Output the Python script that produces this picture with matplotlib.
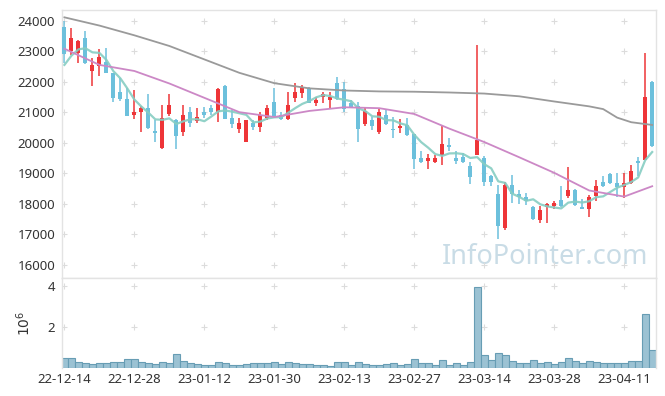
import numpy as np
import pandas as pd
import matplotlib
matplotlib.use('Agg')
import matplotlib.pyplot as plt
from matplotlib.ticker import FuncFormatter

plt.rcParams['font.family'] = ['Noto Sans', 'DejaVu Sans']

# 일봉 데이터 (시가, 고가, 저가, 종가) - 그림에서 읽은 값
opens = [23790, 23020, 22940, 23430, 22370, 22530, 22650, 22290, 21670, 21440,
         20920, 21020, 21150, 20400, 19850, 20940, 20750, 20370, 21030, 20720,
         21030, 21160, 21010, 21880, 20830, 20460, 20040, 20670, 20530, 20810,
         21350, 20920, 20780, 21470, 21650, 21790, 21300, 21500, 21410, 21960,
         21760, 21320, 21210, 20620, 20750, 20350, 20920, 20470, 20480, 20590,
         20290, 19520, 19420, 19390, 19610, 19930, 19520, 19550, 19250, 19610,
         19520, 18900, 18330, 17200, 18620, 18330, 18220, 17910, 17480, 17910,
         17940, 18130, 18270, 18460, 17910, 17840, 18270, 18730, 18980, 18680,
         18550, 18680, 19410, 19440, 22010]
highs = [24000, 23760, 23370, 23670, 22800, 23070, 23100, 22300, 22140, 21800,
         21750, 21210, 21600, 20750, 21250, 21590, 20780, 21250, 21190, 21140,
         21190, 21250, 21790, 21890, 21080, 20810, 20760, 20750, 21030, 21250,
         21790, 21030, 21660, 21960, 21900, 21850, 21520, 21680, 21680, 22150,
         22010, 21410, 21350, 21140, 20860, 21140, 21100, 20840, 20800, 20810,
         20290, 19720, 19630, 19610, 20590, 20170, 19750, 19680, 19390, 23210,
         19570, 18950, 18620, 18730, 18950, 18460, 18370, 17920, 17940, 18020,
         18110, 18590, 19220, 18480, 18150, 18300, 18790, 18920, 19030, 19030,
         19010, 19260, 19550, 22940, 22040]
lows = [22620, 22880, 22610, 22600, 21870, 22190, 22280, 21330, 21390, 20870,
        20790, 20360, 20460, 20040, 19800, 20900, 19790, 20230, 20530, 20650,
        20810, 20920, 20700, 20790, 20480, 20320, 20030, 20430, 20370, 20750,
        20860, 20750, 20750, 21350, 21470, 21320, 21210, 21300, 21140, 21410,
        21030, 21170, 20040, 20560, 20430, 20290, 20600, 20150, 20340, 20240,
        19140, 19350, 19140, 19330, 19260, 19740, 19310, 19350, 18660, 19600,
        18600, 18600, 16840, 17130, 18020, 18000, 17970, 17480, 17390, 17390,
        17830, 17910, 18190, 17930, 17840, 17580, 18110, 18570, 18660, 18220,
        18190, 18660, 18900, 19440, 19860]
closes = [22910, 23440, 23340, 22610, 22560, 22820, 22290, 21490, 21430, 20890,
          21010, 21150, 20480, 20330, 20820, 21250, 20230, 20920, 20650, 20840,
          20920, 21010, 21770, 20790, 20630, 20670, 20750, 20530, 20920, 21140,
          20860, 20790, 21250, 21680, 21830, 21320, 21410, 21610, 21520, 21430,
          21110, 21170, 20460, 21060, 20570, 21030, 20620, 20430, 20560, 20260,
          19480, 19390, 19520, 19520, 19970, 19880, 19420, 19390, 18880, 20100,
          18730, 18730, 17260, 18620, 18330, 18220, 18080, 17510, 17800, 17990,
          18030, 17930, 18460, 17970, 17840, 18240, 18590, 18600, 18680, 18550,
          18680, 19080, 19350, 21500, 19900]
# 차트 시작 전 4일 종가 (5일 이동평균 시작값에서 추정)
prev_closes = [21930, 22300, 22430, 23230]

# 거래량 (백만 주)
volume = [0.47, 0.47, 0.27, 0.23, 0.18, 0.23, 0.23, 0.27, 0.27, 0.42,
          0.42, 0.27, 0.23, 0.18, 0.27, 0.23, 0.66, 0.34, 0.23, 0.18,
          0.13, 0.13, 0.27, 0.23, 0.13, 0.13, 0.18, 0.23, 0.23, 0.23,
          0.27, 0.18, 0.27, 0.23, 0.18, 0.18, 0.13, 0.13, 0.12, 0.27,
          0.27, 0.13, 0.27, 0.18, 0.13, 0.13, 0.18, 0.23, 0.13, 0.18,
          0.42, 0.23, 0.23, 0.13, 0.37, 0.13, 0.23, 0.13, 0.27, 3.94,
          0.61, 0.37, 0.71, 0.61, 0.32, 0.23, 0.23, 0.37, 0.23, 0.27,
          0.18, 0.27, 0.47, 0.32, 0.23, 0.32, 0.27, 0.23, 0.23, 0.23,
          0.23, 0.32, 0.32, 2.63, 0.87]

# 20일, 장기 이동평균
ma20_idx = [0, 5, 10, 15, 20, 25, 30, 35, 40, 45, 50, 55, 60, 65, 70, 75, 80, 84]
ma20_val = [23090, 22560, 22360, 21950, 21480, 21010, 20850, 21050, 21170, 21140,
            20950, 20470, 20030, 19530, 19020, 18440, 18240, 18580]
ma_long_idx = [0, 5, 10, 15, 20, 25, 30, 35, 40, 45, 50, 55, 60, 65, 70, 75, 77, 79, 81, 84]
ma_long_val = [24120, 23850, 23530, 23180, 22740, 22300, 21960, 21790, 21720, 21690,
               21680, 21655, 21620, 21530, 21360, 21200, 21110, 20830, 20680, 20590]

tick_pos = [0, 10, 20, 30, 40, 50, 60, 70, 80]
tick_labels = ['22-12-14', '22-12-28', '23-01-12', '23-01-30', '23-02-13',
               '23-02-27', '23-03-14', '23-03-28', '23-04-11']
price_ticks = [16000, 17000, 18000, 19000, 20000, 21000, 22000, 23000, 24000]
vol_ticks = [2, 4]

up_color = '#EE3538'
down_color = '#6CC0DC'
spine_color = '#e3e3e3'
text_color = '#333333'

x = np.arange(len(closes))
o = np.array(opens)
h = np.array(highs)
l = np.array(lows)
c = np.array(closes)

ma5 = pd.Series(prev_closes + closes).rolling(5).mean().iloc[4:].values

fig = plt.figure(figsize=(6.65, 3.96), dpi=100)
ax = fig.add_axes([0.0932, 0.298, 0.8933, 0.6767])
axv = fig.add_axes([0.0932, 0.0707, 0.8933, 0.2273], sharex=ax)

colors = np.where(c >= o, up_color, down_color)
body_bottom = np.minimum(o, c)
body_height = np.maximum(np.abs(c - o), 25)
ax.vlines(x, l, h, colors=colors, linewidth=1.1, zorder=2)
ax.bar(x, body_height, bottom=body_bottom, width=0.58, color=colors, zorder=3)

ax.plot(x, ma5, color='#86CDC2', linewidth=1.6, alpha=0.9, zorder=4)
ax.plot(ma20_idx, ma20_val, color='#CC88C6', linewidth=1.3, zorder=4)
ax.plot(ma_long_idx, ma_long_val, color='#9A9A9A', linewidth=1.3, zorder=4)

ax.set_ylim(15570, 24360)
ax.set_xlim(-0.35, 84.55)
ax.set_yticks(price_ticks)
ax.set_xticks(tick_pos)
ax.tick_params(axis='x', labelbottom=False, length=0)
ax.tick_params(axis='y', length=0, labelsize=9.5, labelcolor=text_color, pad=5)

# 격자 대신 + 표시
gx, gy = np.meshgrid(tick_pos, price_ticks)
ax.scatter(gx.ravel(), gy.ravel(), marker='+', s=18, color='#dcdcdc', linewidths=0.8, zorder=1)

ax.text(0.987, 0.025, 'InfoPointer.com', transform=ax.transAxes, ha='right', va='bottom',
        fontsize=19.5, color='#c9dce6', zorder=0)

axv.bar(x, volume, width=1.0, color='#9BC2D3', edgecolor='#679DB4', linewidth=0.8, zorder=2)
axv.set_ylim(0, 4.37)
axv.set_yticks(vol_ticks)
axv.yaxis.set_major_formatter(FuncFormatter(lambda v, p: f'{v:.0f}'))
axv.set_ylabel(r'$10^6$', fontsize=10, color=text_color, labelpad=10)
vx, vy = np.meshgrid(tick_pos, vol_ticks)
axv.scatter(vx.ravel(), vy.ravel(), marker='+', s=18, color='#dcdcdc', linewidths=0.8, zorder=1)
axv.set_xticks(tick_pos)
axv.set_xticklabels(tick_labels)
axv.tick_params(axis='both', length=0, labelsize=9.5, labelcolor=text_color)
axv.tick_params(axis='y', pad=5)

for a in (ax, axv):
    for s in a.spines.values():
        s.set_color(spine_color)
        s.set_linewidth(1)
axv.spines['bottom'].set_visible(False)

fig.savefig('out.png', dpi=100)
